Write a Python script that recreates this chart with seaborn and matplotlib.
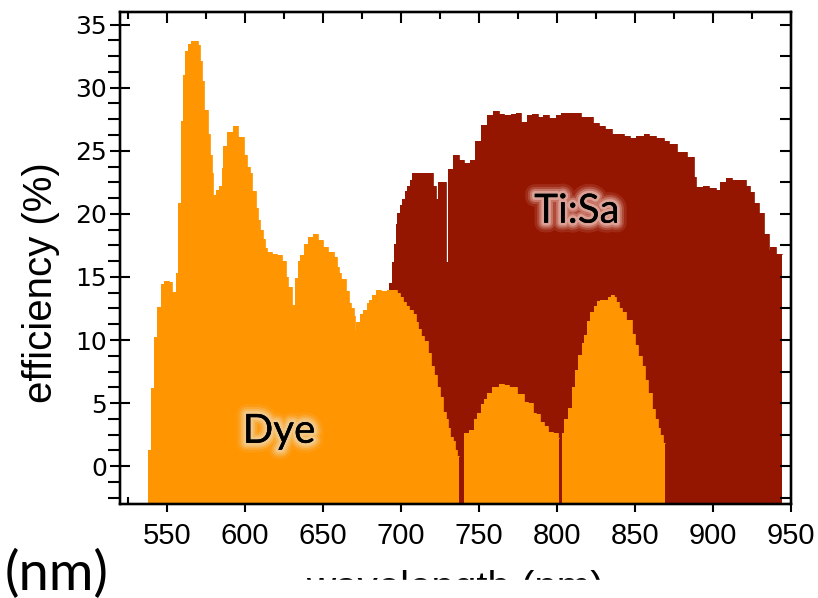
import numpy as np
import matplotlib.pyplot as plt
import seaborn as sns
from matplotlib import patheffects as pe
from matplotlib.patches import Rectangle
from matplotlib.ticker import MultipleLocator

# Dye laser efficiency: step edges (nm) and efficiency (%) per step, NaN = gap
dye_edges = [538.0, 540.1, 541.8, 544.0, 546.5, 548.3, 551.5, 553.6, 555.7, 557.3,
             559.0, 560.5, 561.8, 563.3, 565.4, 569.7, 571.2, 572.5, 574.0, 576.1,
             577.4, 578.7, 579.9, 581.6, 583.6, 585.1, 586.3, 588.5, 592.1, 595.3,
             599.6, 601.7, 603.2, 604.9, 607.0, 608.5, 609.8, 611.5, 612.8, 614.5,
             617.7, 620.9, 624.1, 626.3, 627.8, 630.1, 632.0, 633.8, 635.5, 637.6,
             640.2, 644.0, 647.2, 650.4, 653.0, 657.2, 658.9, 660.4, 661.9, 664.7,
             666.9, 668.3, 670.1, 670.7, 671.5, 673.9, 675.8, 678.0, 679.7, 681.8,
             683.9, 687.1, 691.4, 697.4, 699.3, 701.5, 703.2, 705.3, 707.5, 709.6,
             711.1, 712.8, 714.9, 717.1, 719.2, 721.3, 723.0, 725.2, 727.3, 728.8,
             730.3, 731.6, 733.1, 734.6, 735.9, 737.4, 740.6, 743.8, 746.6, 748.7,
             751.3, 753.4, 755.5, 758.7, 763.0, 766.2, 769.4, 774.3, 779.0, 781.2,
             784.4, 786.5, 789.3, 791.9, 794.4, 797.2, 800.4, 801.5, 803.2, 804.7,
             807.3, 809.4, 811.6, 813.7, 815.8, 817.6, 819.3, 821.4, 823.5, 825.7,
             827.8, 832.5, 834.7, 836.4, 837.9, 840.0, 841.7, 844.3, 847.9, 850.0,
             852.2, 854.3, 856.4, 858.6, 860.7, 862.9, 864.6, 866.3, 867.8, 869.5]
dye_eff = [1.3, 6.2, 10.2, 12.6, 14.4, 14.7, 14.6, 13.8, 15.3, 20.9,
           27.4, 31.0, 32.9, 33.5, 33.7, 33.4, 32.1, 30.5, 28.2, 26.3,
           24.7, 23.2, 21.5, 21.9, 22.2, 23.6, 25.4, 26.5, 27.0, 26.1,
           24.7, 23.7, 23.2, 21.8, 20.5, 19.5, 18.7, 18.0, 17.3, 17.0,
           16.8, 16.7, 16.3, 15.0, 14.2, 12.8, 14.9, 16.3, 16.7, 17.6,
           18.2, 18.4, 17.95, 17.4, 17.0, 16.6, 15.8, 15.3, 14.8, 13.9,
           12.9, 12.5, 11.9, 10.8, 11.4, 12.1, 12.4, 12.9, 13.2, 13.6,
           14.0, 13.9, 14.0, 13.7, 13.4, 13.0, 12.7, 12.4, 12.05, 11.4,
           10.85, 10.3, 9.9, 8.95, 7.9, 7.2, 6.3, 5.5, 4.3, 3.7,
           3.0, 2.3, 2.0, 1.3, 0.8, np.nan, 2.6, 2.9, 3.7, 4.2,
           4.95, 5.3, 5.8, 6.3, 6.5, 6.45, 6.25, 5.7, 5.1, 5.0,
           4.2, 4.1, 3.5, 3.2, 2.7, 2.6, 2.2, np.nan, 2.6, 3.7,
           4.6, 6.3, 7.6, 8.8, 9.8, 10.4, 11.5, 12.2, 12.7, 13.1,
           13.2, 13.4, 13.6, 13.4, 13.0, 12.5, 12.2, 11.6, 10.5, 9.6,
           8.7, 7.9, 6.8, 5.8, 4.5, 3.7, 3.0, 2.5, 1.85]

# Ti:Sa laser efficiency
tisa_edges = [692.5, 694.2, 695.3, 696.8, 697.8, 699.3, 701.0, 702.5, 704.2, 705.7,
              707.0, 720.7, 722.6, 723.9, 728.6, 729.9, 733.5, 737.4, 740.6, 744.0,
              747.4, 751.3, 754.9, 758.8, 763.0, 766.2, 770.5, 773.7, 776.9, 780.8,
              783.8, 787.6, 790.8, 795.1, 799.4, 802.6, 815.4, 822.9, 827.1, 830.8,
              835.0, 838.9, 842.7, 847.0, 850.6, 856.0, 859.2, 863.5, 868.8, 872.0,
              876.9, 883.3, 887.6, 889.1, 893.4, 897.6, 901.9, 904.7, 908.3, 912.0,
              921.2, 923.9, 926.5, 929.7, 932.5, 935.7, 936.8, 940.4, 944.0]
tisa_eff = [14.5, 16.2, 17.6, 19.2, 20.1, 20.7, 21.2, 21.8, 22.2, 22.7,
            23.2, 22.2, 21.2, 22.5, 16.2, 23.55, 24.7, 24.3, 24.0, 24.3,
            25.8, 27.05, 27.8, 28.15, 27.9, 27.8, 27.9, 28.0, 27.3, 27.8,
            27.9, 27.7, 27.8, 27.6, 27.8, 28.0, 27.7, 27.2, 27.0, 26.7,
            26.3, 26.35, 26.2, 26.05, 26.2, 26.3, 26.2, 26.05, 25.8, 25.5,
            24.9, 24.5, 22.9, 22.1, 22.2, 22.05, 21.9, 22.5, 22.85, 22.7,
            22.2, 21.7, 20.9, 20.05, 18.4, 17.1, 17.4, 16.8]

DYE_COLOR = '#FF9500'
TISA_COLOR = '#941500'


def to_steps(edges, eff):
    # expand edges/values into a stepped outline
    xs = np.repeat(np.asarray(edges, float), 2)[1:-1]
    ys = np.repeat(np.asarray(eff, float), 2)
    return xs, ys


def glow(color):
    # soft halo behind the label text
    return [pe.withStroke(linewidth=14, foreground=color, alpha=0.12),
            pe.withStroke(linewidth=10, foreground=color, alpha=0.22),
            pe.withStroke(linewidth=7, foreground=color, alpha=0.35),
            pe.withStroke(linewidth=4, foreground=color, alpha=0.55),
            pe.Normal()]


def plot_efficiency():
    sns.set_style('ticks')
    plt.rcParams['font.family'] = ['Liberation Sans', 'DejaVu Sans']
    plt.rcParams['text.color'] = 'black'
    plt.rcParams['axes.edgecolor'] = 'black'
    plt.rcParams['axes.linewidth'] = 1.6
    plt.rcParams['xtick.color'] = 'black'
    plt.rcParams['ytick.color'] = 'black'

    fig = plt.figure(figsize=(8.18, 5.98), dpi=100)
    ax = fig.add_axes([0.1467, 0.1572, 0.8203, 0.8227])

    for edges, eff, color in [(tisa_edges, tisa_eff, TISA_COLOR),
                              (dye_edges, dye_eff, DYE_COLOR)]:
        xs, ys = to_steps(edges, eff)
        ax.fill_between(xs, ys, -5, color=color, lw=0)
        seg = np.cumsum(np.isnan(ys))
        sns.lineplot(x=xs, y=ys, units=seg, estimator=None, sort=False,
                     color=color, lw=0.6, ax=ax)

    ax.set_xlim(520, 950)
    ax.set_ylim(-3, 36)
    ax.set_axisbelow(True)
    ax.set_xlabel('')
    ax.set_ylabel('')

    ax.xaxis.set_major_locator(MultipleLocator(50))
    ax.xaxis.set_minor_locator(MultipleLocator(25))
    ax.yaxis.set_major_locator(MultipleLocator(5))
    ax.yaxis.set_minor_locator(MultipleLocator(1.25))
    ax.tick_params(axis='y', which='major', direction='inout', length=15,
                   width=1.5, pad=2, labelsize=18)
    ax.tick_params(axis='y', which='minor', direction='out', length=9, width=1.5)
    ax.tick_params(axis='x', which='major', direction='out', length=6,
                   width=1.5, pad=7, labelsize=21)
    ax.tick_params(axis='x', which='minor', direction='in', length=5, width=1.5)
    for lbl in ax.get_yticklabels():
        lbl.set_family('DejaVu Sans')

    # top and right ticks point inward
    ax_top = ax.twiny()
    ax_top.set_xlim(520, 950)
    ax_top.xaxis.set_major_locator(MultipleLocator(50))
    ax_top.xaxis.set_minor_locator(MultipleLocator(25))
    ax_top.tick_params(axis='x', which='major', direction='in', length=8,
                       width=1.5, labeltop=False)
    ax_top.tick_params(axis='x', which='minor', direction='in', length=5,
                       width=1.5)
    ax_right = ax.twinx()
    ax_right.set_ylim(-3, 36)
    ax_right.yaxis.set_major_locator(MultipleLocator(2.5))
    ax_right.tick_params(axis='y', which='major', direction='in', length=8,
                         width=1.5, labelright=False)

    ax.text(621.8, 1.85, 'Dye', family='Lato', fontsize=29, ha='center',
            va='baseline', color='black', path_effects=glow('#F3D6A6'))
    ax.text(812.8, 19.3, 'Ti:Sa', family='Lato', fontsize=29, ha='center',
            va='baseline', color='black', path_effects=glow('#F0C4BC'))

    fig.text(41 / 818, 1 - 283 / 598, 'efficiency (%)', rotation=90,
             ha='center', va='center', fontsize=29)
    fig.text(5 / 818, 8 / 598, '(nm)', family='Lato', fontsize=39,
             ha='left', va='baseline')
    fig.text(455 / 818, -2 / 598, 'wavelength (nm)', fontsize=29,
             ha='center', va='baseline')
    # lower part of the axis title is cut off in the original
    fig.patches.append(Rectangle((250 / 818, 0), 1, 18 / 598,
                                 transform=fig.transFigure, color='white',
                                 zorder=10))

    fig.savefig('out.png', dpi=100)


if __name__ == "__main__":
    plot_efficiency()
